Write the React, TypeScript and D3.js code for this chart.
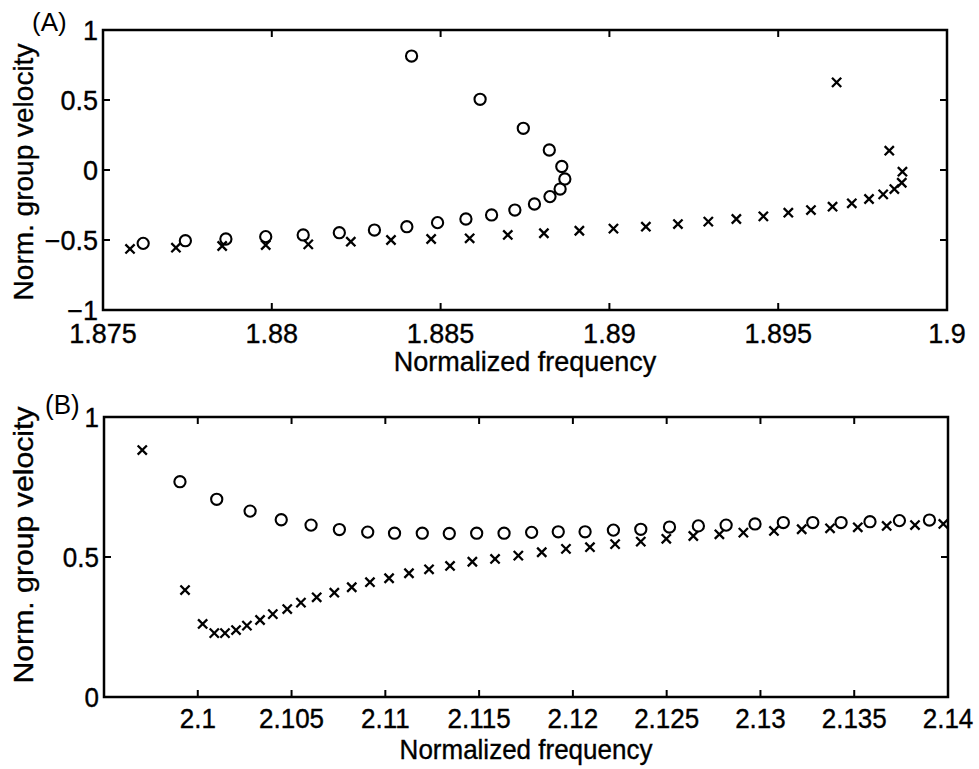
import React from "react";
import * as d3 from "d3";

// Panel A data
const aCircleX = [1.87619, 1.87744, 1.87864, 1.87982, 1.88093, 1.882, 1.88304, 1.884, 1.88491, 1.88575, 1.88651, 1.8872, 1.88778, 1.88824, 1.88854, 1.88868, 1.88859, 1.88822, 1.88745, 1.88617, 1.88414];
const aCircleY = [-0.524, -0.505, -0.493, -0.476, -0.464, -0.448, -0.429, -0.405, -0.376, -0.35, -0.321, -0.286, -0.243, -0.19, -0.136, -0.064, 0.025, 0.143, 0.298, 0.505, 0.814];
const aCrossX = [1.8758, 1.87716, 1.87853, 1.87982, 1.88108, 1.88234, 1.88353, 1.88472, 1.88586, 1.88699, 1.88806, 1.88911, 1.89012, 1.89108, 1.89203, 1.89293, 1.89376, 1.89456, 1.8953, 1.89597, 1.89661, 1.89718, 1.89769, 1.89811, 1.89844, 1.89866, 1.89868, 1.89829, 1.89673];
const aCrossY = [-0.564, -0.555, -0.543, -0.536, -0.531, -0.512, -0.5, -0.493, -0.488, -0.464, -0.452, -0.434, -0.419, -0.405, -0.386, -0.369, -0.35, -0.331, -0.305, -0.286, -0.262, -0.238, -0.207, -0.174, -0.136, -0.091, -0.012, 0.138, 0.626];

// Panel B data
const bCircleX = [2.09905, 2.10101, 2.10279, 2.10445, 2.10604, 2.10755, 2.10906, 2.11049, 2.11197, 2.11341, 2.11487, 2.11633, 2.1178, 2.11922, 2.12065, 2.12216, 2.12362, 2.12515, 2.12669, 2.12817, 2.12971, 2.13122, 2.13279, 2.1343, 2.13584, 2.13741, 2.13901];
const bCircleY = [0.769, 0.706, 0.664, 0.633, 0.614, 0.598, 0.589, 0.585, 0.585, 0.584, 0.585, 0.585, 0.588, 0.59, 0.59, 0.596, 0.599, 0.607, 0.611, 0.614, 0.618, 0.623, 0.623, 0.623, 0.626, 0.63, 0.632];
const bCrossX = [2.09704, 2.09932, 2.10026, 2.10088, 2.10145, 2.10204, 2.10262, 2.10332, 2.104, 2.10477, 2.1055, 2.10634, 2.10728, 2.10821, 2.10918, 2.1102, 2.11126, 2.11233, 2.11345, 2.11464, 2.11585, 2.11709, 2.11834, 2.11963, 2.12091, 2.12225, 2.12362, 2.12498, 2.12642, 2.12781, 2.12909, 2.13072, 2.1322, 2.13371, 2.13519, 2.13673, 2.13824, 2.13975];
const bCrossY = [0.882, 0.382, 0.261, 0.228, 0.228, 0.239, 0.255, 0.275, 0.296, 0.314, 0.337, 0.356, 0.3725, 0.392, 0.41, 0.424, 0.442, 0.456, 0.468, 0.483, 0.493, 0.505, 0.517, 0.529, 0.535, 0.546, 0.555, 0.565, 0.575, 0.581, 0.587, 0.593, 0.599, 0.6025, 0.606, 0.611, 0.614, 0.618];

const aXTicks = [1.875, 1.88, 1.885, 1.89, 1.895, 1.9];
const aXTickLabels = ["1.875", "1.88", "1.885", "1.89", "1.895", "1.9"];
const aYTicks = [-1, -0.5, 0, 0.5, 1];
const aYTickLabels = ["\u22121", "\u22120.5", "0", "0.5", "1"];
const bXTicks = [2.1, 2.105, 2.11, 2.115, 2.12, 2.125, 2.13, 2.135, 2.14];
const bXTickLabels = ["2.1", "2.105", "2.11", "2.115", "2.12", "2.125", "2.13", "2.135", "2.14"];
const bYTicks = [0, 0.5, 1];
const bYTickLabels = ["0", "0.5", "1"];

const FONT = "'Liberation Sans', Arial, Helvetica, sans-serif";

type PanelProps = {
  top: number;
  bottom: number;
  left: number;
  right: number;
  xDomain: [number, number];
  yDomain: [number, number];
  xTicks: number[];
  xTickLabels: string[];
  yTicks: number[];
  yTickLabels: string[];
  circleX: number[];
  circleY: number[];
  crossX: number[];
  crossY: number[];
  tag: string;
  tagX: number;
  tagY: number;
  sy: number;
  fs: number;
  yLabelCy: number;
  tickOff: number;
  labelOff: number;
};

function Panel(p: PanelProps) {
  const x = d3.scaleLinear().domain(p.xDomain).range([p.left, p.right]);
  const y = d3.scaleLinear().domain(p.yDomain).range([p.bottom, p.top]);
  const tl = 7;
  const fs = p.fs;
  const cr = 5.6;
  const xs = 4.6;
  const sy = p.sy;
  const textProps = { fontSize: fs, fontFamily: FONT, fill: "#000", stroke: "#000", strokeWidth: 0.35 };
  return (
    <g>
      <rect x={p.left} y={p.top} width={p.right - p.left} height={p.bottom - p.top} fill="none" stroke="#000" strokeWidth={2.5} />
      {p.xTicks.map((t, i) => (
        <g key={"xt" + i}>
          <line x1={x(t)} x2={x(t)} y1={p.bottom} y2={p.bottom - tl} stroke="#000" strokeWidth={2} />
          <line x1={x(t)} x2={x(t)} y1={p.top} y2={p.top + tl} stroke="#000" strokeWidth={2} />
          <text transform={`translate(${x(t)},${p.bottom + p.tickOff}) scale(1,${sy})`} dy="0.36em" textAnchor="middle" {...textProps}>{p.xTickLabels[i]}</text>
        </g>
      ))}
      {p.yTicks.map((t, i) => (
        <g key={"yt" + i}>
          <line x1={p.left} x2={p.left + tl} y1={y(t)} y2={y(t)} stroke="#000" strokeWidth={2} />
          <line x1={p.right} x2={p.right - tl} y1={y(t)} y2={y(t)} stroke="#000" strokeWidth={2} />
          <text transform={`translate(${p.left - 5},${y(t)}) scale(1,${sy})`} dy="0.36em" textAnchor="end" {...textProps}>{p.yTickLabels[i]}</text>
        </g>
      ))}
      <text transform={`translate(${(p.left + p.right) / 2},${p.bottom + p.labelOff}) scale(1,${sy})`} dy="0.36em" textAnchor="middle" {...textProps}>Normalized frequency</text>
      <text transform={`translate(33,${p.yLabelCy}) rotate(-90) scale(${sy},1)`} textAnchor="middle" {...textProps} fontSize={28}>Norm. group velocity</text>
      <text transform={`translate(${p.tagX},${p.tagY}) scale(1,${sy})`} fontSize={26} fontFamily={FONT} fill="#000">{p.tag}</text>
      {p.circleX.map((v, i) => (
        <circle key={"c" + i} cx={x(v)} cy={y(p.circleY[i])} r={cr} fill="none" stroke="#000" strokeWidth={2.1} />
      ))}
      {p.crossX.map((v, i) => {
        const cx = x(v);
        const cy = y(p.crossY[i]);
        return (
          <path key={"x" + i} d={`M${cx - xs},${cy - xs}L${cx + xs},${cy + xs}M${cx - xs},${cy + xs}L${cx + xs},${cy - xs}`} stroke="#000" strokeWidth={2.3} fill="none" />
        );
      })}
    </g>
  );
}

export default function App() {
  return (
    <svg width={979} height={769} style={{ position: "absolute", left: 0, top: 0, background: "#fff" }}>
      <rect x={0} y={0} width={979} height={769} fill="#fff" />
      <Panel
        top={30} bottom={310} left={103} right={947}
        xDomain={[1.875, 1.9]} yDomain={[-1, 1]}
        xTicks={aXTicks} xTickLabels={aXTickLabels}
        yTicks={aYTicks} yTickLabels={aYTickLabels}
        circleX={aCircleX} circleY={aCircleY}
        crossX={aCrossX} crossY={aCrossY}
        tag="(A)" tagX={32} tagY={31} sy={1} fs={27} yLabelCy={172}
        tickOff={23.5} labelOff={51}
      />
      <Panel
        top={417} bottom={697} left={104} right={948}
        xDomain={[2.095, 2.14]} yDomain={[0, 1]}
        xTicks={bXTicks} xTickLabels={bXTickLabels}
        yTicks={bYTicks} yTickLabels={bYTickLabels}
        circleX={bCircleX} circleY={bCircleY}
        crossX={bCrossX} crossY={bCrossY}
        tag="(B)" tagX={45} tagY={414} sy={1.08} fs={26} yLabelCy={545}
        tickOff={21} labelOff={52}
      />
    </svg>
  );
}
